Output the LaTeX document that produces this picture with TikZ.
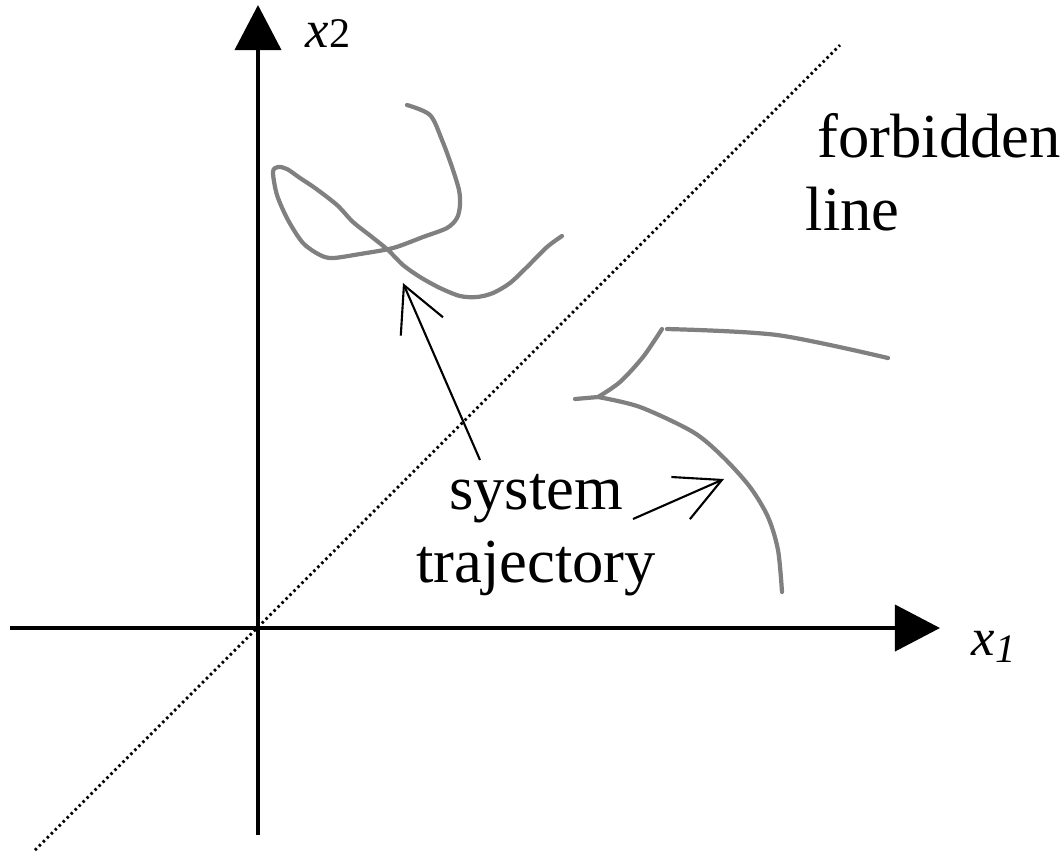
\documentclass[tikz,border=0pt]{standalone}
\usepackage{fontspec}
\setmainfont{Liberation Serif}
\usetikzlibrary{arrows.meta}

\begin{document}
\begin{tikzpicture}[x=0.01cm, y=-0.01cm,
    axis/.style={line width=1.1pt, -{Triangle[length=4.5mm, width=4.6mm]}},
    forbid/.style={line width=0.8pt, dash pattern=on 0.7pt off 0.9pt},
    traj/.style={line width=1.2pt, draw=black!50, line join=round, line cap=round},
    pointer/.style={line width=0.6pt, -{Straight Barb[length=4.5mm, width=4.6mm, line width=0.6pt]}},
    lbl/.style={inner sep=0pt, font=\fontsize{17.8}{20.8}\selectfont},
    axlbl/.style={inner sep=0pt, anchor=base west, font=\fontsize{15}{15}\selectfont}
]
\useasboundingbox (0,0) rectangle (1063,853);

% axes and the forbidden line
\coordinate (xs) at (10,628);
\coordinate (xe) at (940,628);
\coordinate (ys) at (258,835);
\coordinate (ye) at (258,5);
\coordinate (fs) at (35,850);
\coordinate (fe) at (840,45);
\draw[forbid] (fs) -- (fe);
\draw[axis] (xs) -- (xe);
\draw[axis] (ys) -- (ye);
\node[axlbl] (x1) at (971,655) {\textit{x}\raisebox{-2pt}{\fontsize{11.5}{11.5}\selectfont\textit{1}}};
\node[axlbl] (x2) at (305,47) {\textit{x}\fontsize{12}{12}\selectfont 2};

% trajectories
\draw[traj] plot[smooth, tension=0.5] coordinates {(407,105) (430,115) (442,140) (452,167) (459,190) (460,205) (457,218) (447,228) (423,237) (393,248) (360,254) (333,258) (320,255) (303,243) (288,220) (277,195) (273,172) (278,167) (287,169) (300,178) (315,188) (337,205) (353,222) (372,237) (388,250) (403,265) (420,277) (440,288) (460,296) (477,297) (493,293) (510,283) (527,267) (547,247) (562,236)};
\draw[traj] plot[smooth, tension=0.5] coordinates {(662,329) (643,357) (620,382) (598,397)} -- (575,399);
\draw[traj] plot[smooth, tension=0.5] coordinates {(598,397) (640,407) (693,432) (723,457) (750,487) (768,517) (778,550) (782,592)};
\draw[traj] plot[smooth, tension=0.5] coordinates {(667,329) (777,335) (888,358)};

% labels
\node[lbl, anchor=north west, align=left] (forbidden) at (805,113) {\hspace*{3.4pt}forbidden\\line};
\node[lbl, align=center] (system) at (536,535) {system\\trajectory};

\coordinate (tipA) at (403,283);
\coordinate (tipB) at (724,479);
\draw[pointer] (480,460) -- (tipA);
\draw[pointer] (633,519) -- (tipB);
\end{tikzpicture}
\end{document}
